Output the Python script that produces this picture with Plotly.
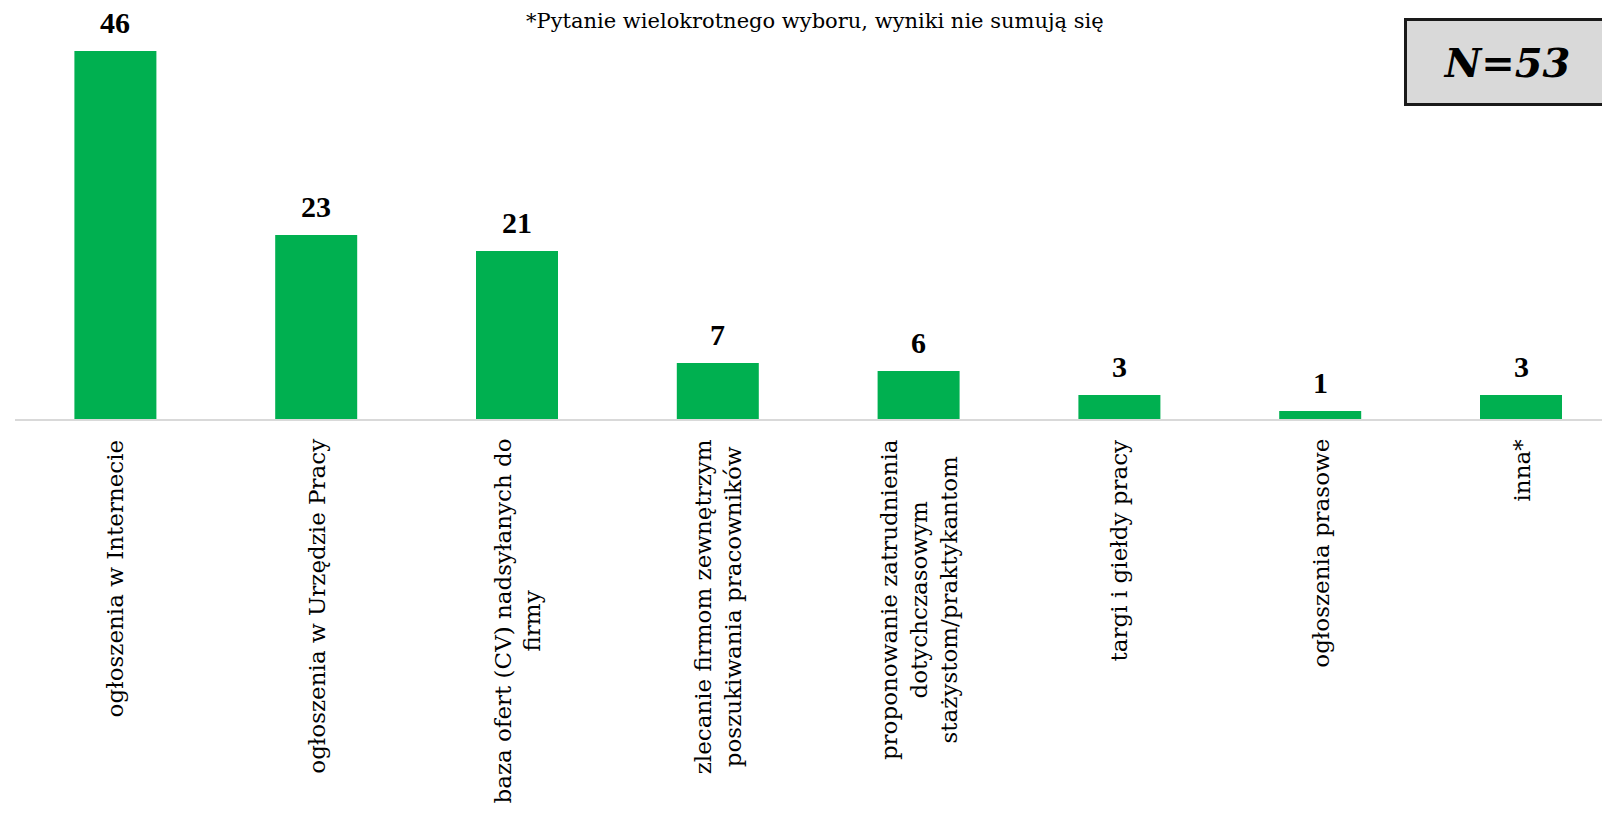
import plotly.graph_objects as go

categories = [
    "ogłoszenia w Internecie",
    "ogłoszenia w Urzędzie Pracy",
    "baza ofert (CV) nadsyłanych do<br>firmy",
    "zlecanie firmom zewnętrzym<br>poszukiwania pracowników",
    "proponowanie zatrudnienia<br>dotychczasowym<br>stażystom/praktykantom",
    "targi i giełdy pracy",
    "ogłoszenia prasowe",
    "inna*",
]
values = [46, 23, 21, 7, 6, 3, 1, 3]
note_text = "*Pytanie wielokrotnego wyboru, wyniki nie sumują się"
n_text = "N=53"

SERIF = "Liberation Serif"
LABEL_FONT = "DejaVu Serif"
GREEN = "#00b050"

W, H = 1602, 818
ml, mr, mt, mb = 15, 0, 40, 399
px_per_unit = 8.0
plot_h = H - mt - mb
plot_w = W - ml - mr
cat_w = 200.8

idx = list(range(len(categories)))

fig = go.Figure()
fig.add_trace(go.Bar(
    x=idx, y=values, marker=dict(color=GREEN, line=dict(width=0)),
    width=82 / cat_w, hoverinfo="skip",
))

# value labels
for i, v in zip(idx, values):
    fig.add_annotation(
        x=i, y=v, xref="x", yref="y", text=f"<b>{v}</b>", showarrow=False,
        yanchor="bottom", xanchor="center", yshift=10,
        font=dict(family=SERIF, size=30, color="black"),
    )

# category labels (rotated, centered lines)
for i, c in zip(idx, categories):
    fig.add_annotation(
        x=i, y=0, xref="x", yref="paper", text=c, showarrow=False,
        textangle=-90, yanchor="top", xanchor="center", yshift=-18,
        align="center",
        font=dict(family=LABEL_FONT, size=23, color="black"),
    )

# note at top
fig.add_annotation(
    x=(815 - ml) / plot_w, y=(H - mb - 21) / plot_h, xref="paper", yref="paper",
    text=note_text, showarrow=False, xanchor="center", yanchor="middle",
    font=dict(family=LABEL_FONT, size=21, color="black"),
)
# N box
fig.add_annotation(
    x=(1404 - ml) / plot_w, y=(H - mb - 18) / plot_h, xref="paper", yref="paper",
    text=f"<b><i>{n_text}</i></b>", showarrow=False, xanchor="left", yanchor="top",
    width=197, height=80, borderpad=1, borderwidth=3, bordercolor="#1a1a1a",
    bgcolor="#d9d9d9", align="center",
    font=dict(family="DejaVu Serif", size=40, color="black"),
)

fig.update_layout(
    width=W, height=H, autosize=False,
    margin=dict(l=ml, r=mr, t=mt, b=mb),
    paper_bgcolor="white", plot_bgcolor="white",
    showlegend=False,
    xaxis=dict(
        range=[-0.5, -0.5 + plot_w / cat_w], showticklabels=False, ticks="",
        showgrid=False, zeroline=False, showline=True, linecolor="#d9d9d9", linewidth=2,
        fixedrange=True,
    ),
    yaxis=dict(
        range=[0, plot_h / px_per_unit], visible=False, showgrid=False, zeroline=False,
        fixedrange=True,
    ),
)

fig.write_html(
    "out.html",
    config={"displayModeBar": False},
    post_script="document.body.style.margin='0px';document.body.style.overflow='hidden';",
)
